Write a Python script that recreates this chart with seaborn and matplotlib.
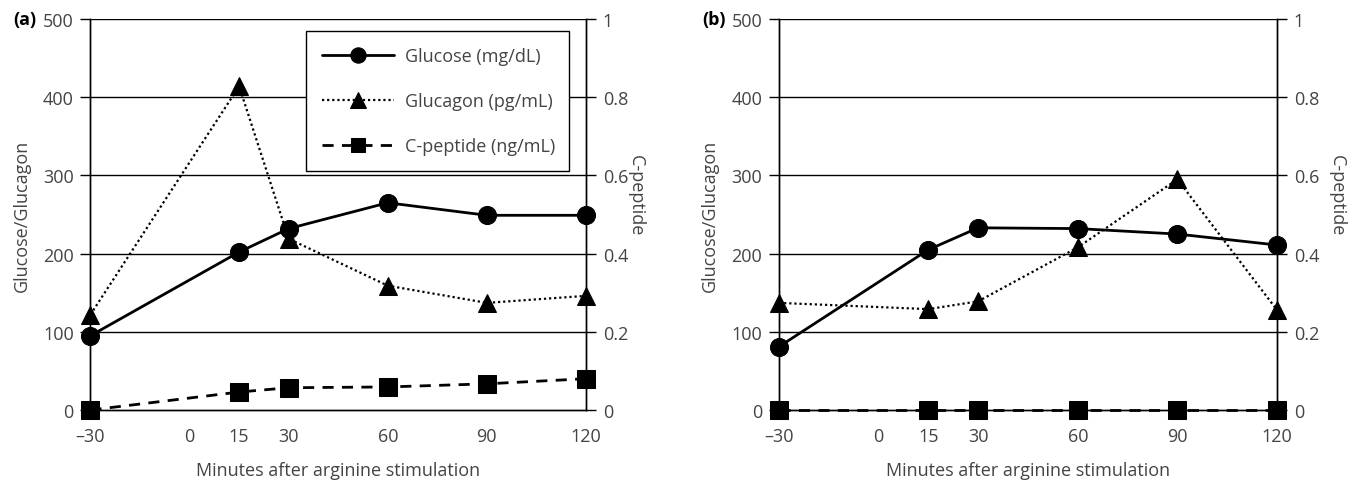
import numpy as np
import pandas as pd
import matplotlib
matplotlib.use('Agg')
import matplotlib.pyplot as plt
import seaborn as sns

# data
minutes = [-30, 15, 30, 60, 90, 120]
xticks = [-30, 0, 15, 30, 60, 90, 120]

glucose_a = [95, 202, 232, 265, 249, 249]
glucagon_a = [122, 414, 219, 159, 137, 146]
cpeptide_a = [0.0, 0.046, 0.057, 0.059, 0.067, 0.080]

glucose_b = [81, 205, 233, 232, 225, 211]
glucagon_b = [137, 129, 139, 208, 295, 128]
cpeptide_b = [0.0, 0.0, 0.0, 0.0, 0.0, 0.0]

left_ticks = [0, 100, 200, 300, 400, 500]
right_ticks = [0, 0.2, 0.4, 0.6, 0.8, 1.0]
right_labels = ['0', '0.2', '0.4', '0.6', '0.8', '1']
legend_labels = ['Glucose (mg/dL)', 'Glucagon (pg/mL)', 'C-peptide (ng/mL)']

sns.set_style('white')
plt.rcParams['font.family'] = ['Open Sans', 'DejaVu Sans']
plt.rcParams['axes.unicode_minus'] = True

txt = '#444444'
fs = 13

fig = plt.figure(figsize=(13.48, 4.81), dpi=100)
ax_a = fig.add_axes([0.0671, 0.1455, 0.3676, 0.8129])
ax_b = fig.add_axes([0.5779, 0.1455, 0.3694, 0.8129])


def draw_panel(ax, glucose, glucagon, cpeptide, letter, rlabel_x):
    df = pd.DataFrame({'min': minutes, 'glu': glucose, 'gcg': glucagon, 'cp': cpeptide})
    sns.lineplot(data=df, x='min', y='glu', ax=ax, color='black', linewidth=2,
                 marker='o', markersize=13, markeredgecolor='black',
                 clip_on=False, zorder=5)
    sns.lineplot(data=df, x='min', y='gcg', ax=ax, color='black', linewidth=1.6,
                 linestyle=(0, (1, 1.3)), marker='^', markersize=13.5,
                 markeredgecolor='black', clip_on=False, zorder=5)
    ax2 = ax.twinx()
    sns.lineplot(data=df, x='min', y='cp', ax=ax2, color='black', linewidth=2,
                 linestyle=(0, (4, 3)), marker='s', markersize=12.5,
                 markeredgecolor='black', clip_on=False, zorder=5)

    ax.set_xlim(-30, 120)
    ax.set_ylim(0, 500)
    ax2.set_ylim(0, 1)
    ax.set_xticks(xticks)
    ax.set_xticklabels(['\u201330' if t == -30 else str(t) for t in xticks])
    ax.set_yticks(left_ticks)
    ax.set_yticklabels([str(t) for t in left_ticks])
    ax2.set_yticks(right_ticks)
    ax2.set_yticklabels(right_labels)

    # horizontal grid
    for v in left_ticks[1:]:
        ax.axhline(v, color='black', lw=1, zorder=1)

    for a in (ax, ax2):
        for s in a.spines.values():
            s.set_visible(False)
        a.spines['left'].set_visible(True)
        a.spines['right'].set_visible(True)
        a.spines['bottom'].set_visible(True)
        for s in a.spines.values():
            s.set_color('black')
            s.set_linewidth(1)
        a.tick_params(colors='black', labelcolor=txt, labelsize=fs, length=7,
                      width=1, direction='out', pad=5)
    ax.tick_params(axis='x', length=6, pad=6)

    ax.set_xlabel('Minutes after arginine stimulation', fontsize=fs, color=txt, labelpad=12)
    ax.set_ylabel('Glucose/Glucagon', fontsize=fs, color=txt, labelpad=9)
    ax2.set_ylabel('')
    fig.text(rlabel_x, 0.1455 + 0.8129 * 0.55, 'C-peptide', rotation=270,
             fontsize=fs, color=txt, ha='center', va='center')
    ax.text(-0.155, 1.0, letter, transform=ax.transAxes, fontsize=fs,
            fontweight='bold', color='black', ha='left', va='center')
    return ax2


ax2_a = draw_panel(ax_a, glucose_a, glucagon_a, cpeptide_a, '(a)', 636 / 1348)
ax2_b = draw_panel(ax_b, glucose_b, glucagon_b, cpeptide_b, '(b)', 1337 / 1348)

handles = [ax_a.lines[0], ax_a.lines[1], ax2_a.lines[0]]
leg = ax2_a.legend(handles, legend_labels, loc='upper left',
                   bbox_to_anchor=(0.434, 0.631, 0.532, 0.339), mode='expand',
                   borderaxespad=0, fontsize=13, frameon=True, fancybox=False,
                   framealpha=1, edgecolor='black', handlelength=4.0,
                   labelspacing=1.5, borderpad=0.9, handletextpad=0.6,
                   labelcolor=txt, markerscale=0.85)
leg.get_frame().set_linewidth(1)
leg.set_zorder(10)

fig.savefig('out.png', dpi=100)
